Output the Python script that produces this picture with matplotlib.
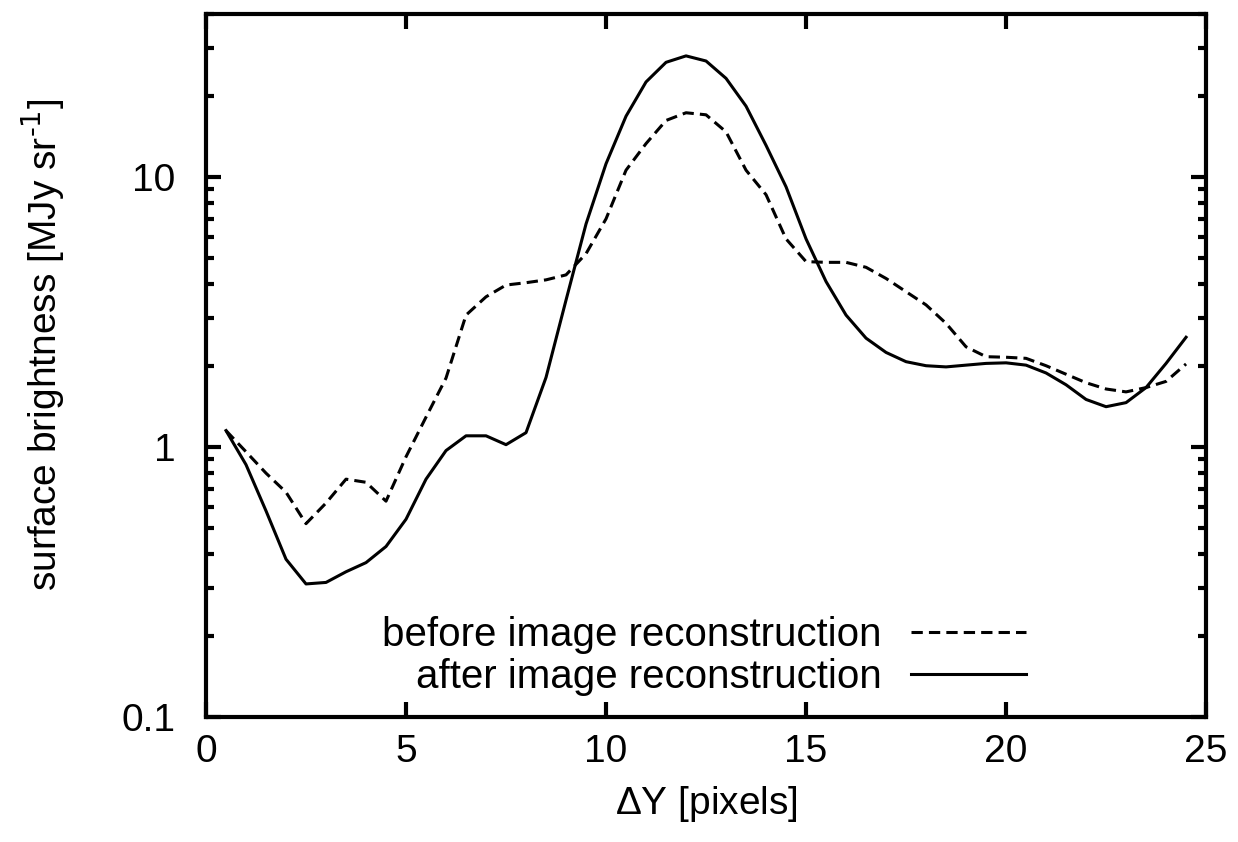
import matplotlib
matplotlib.use('Agg')
import matplotlib.pyplot as plt
from matplotlib.ticker import FixedLocator, FixedFormatter, LogLocator, NullFormatter

plt.rcParams['font.family'] = ['Liberation Sans', 'DejaVu Sans']
plt.rcParams['mathtext.default'] = 'regular'
plt.rcParams['font.size'] = 28

# cut position along the slit [pixels]
dy = [0.5, 1.0, 1.5, 2.0, 2.5, 3.0, 3.5, 4.0, 4.5, 5.0,
      5.5, 6.0, 6.5, 7.0, 7.5, 8.0, 8.5, 9.0, 9.5, 10.0,
      10.5, 11.0, 11.5, 12.0, 12.5, 13.0, 13.5, 14.0, 14.5, 15.0,
      15.5, 16.0, 16.5, 17.0, 17.5, 18.0, 18.5, 19.0, 19.5, 20.0,
      20.5, 21.0, 21.5, 22.0, 22.5, 23.0, 23.5, 24.0, 24.5]

# surface brightness [MJy/sr]
before = [1.15, 0.96, 0.80, 0.68, 0.52, 0.62, 0.76, 0.74, 0.63, 0.92,
          1.29, 1.80, 3.08, 3.60, 3.98, 4.06, 4.16, 4.34, 5.20, 7.00,
          10.6, 13.3, 16.2, 17.3, 17.0, 14.7, 10.6, 8.6, 5.9, 4.86,
          4.83, 4.83, 4.63, 4.21, 3.76, 3.36, 2.87, 2.35, 2.16, 2.15,
          2.13, 2.00, 1.86, 1.73, 1.64, 1.60, 1.66, 1.75, 2.03]

after = [1.15, 0.86, 0.58, 0.384, 0.311, 0.315, 0.345, 0.373, 0.428, 0.54,
         0.76, 0.97, 1.10, 1.10, 1.02, 1.13, 1.81, 3.50, 6.70, 11.2,
         16.8, 22.5, 26.6, 28.1, 26.9, 23.2, 18.3, 13.1, 9.2, 5.9,
         4.10, 3.08, 2.53, 2.24, 2.07, 2.00, 1.98, 2.01, 2.04, 2.05,
         2.01, 1.88, 1.70, 1.50, 1.41, 1.46, 1.66, 2.04, 2.55]

x_ticks = [0, 5, 10, 15, 20, 25]
y_ticks = [0.1, 1, 10]
y_labels = ['0.1', '1', '10']

fig = plt.figure(figsize=(12.38, 8.42), dpi=100)
ax = fig.add_axes([0.1664, 0.1485, 0.8078, 0.8343])

ax.plot(dy, before, color='black', lw=2.2, linestyle=(0, (3.7, 2.0)),
        label='before image reconstruction')
ax.plot(dy, after, color='black', lw=2.2, label='after image reconstruction')

ax.set_yscale('log')
ax.set_xlim(0, 25)
ax.set_ylim(0.1, 40)

ax.xaxis.set_major_locator(FixedLocator(x_ticks))
ax.yaxis.set_major_locator(FixedLocator(y_ticks))
ax.yaxis.set_major_formatter(FixedFormatter(y_labels))
ax.yaxis.set_minor_locator(LogLocator(base=10, subs=range(2, 10)))
ax.yaxis.set_minor_formatter(NullFormatter())

for s in ax.spines.values():
    s.set_linewidth(3)
ax.tick_params(which='major', direction='in', length=11, width=3,
               top=True, right=True)
ax.tick_params(which='minor', direction='in', length=6, width=3,
               top=True, right=True)
ax.tick_params(axis='x', pad=12)
ax.tick_params(axis='y', pad=22)

ax.set_xlabel(r'$\Delta$Y [pixels]', labelpad=10)
ax.set_ylabel(r'surface brightness [MJy sr$^{\text{-1}}$]')
ax.yaxis.set_label_coords(-0.14, 0.53)

ax.legend(loc='lower right', bbox_to_anchor=(0.82, 0.03), frameon=False,
          markerfirst=False, handlelength=2.85, handletextpad=0.74,
          labelspacing=0.1, borderpad=0, borderaxespad=0, fontsize=29)

fig.savefig('out.png', dpi=100)
